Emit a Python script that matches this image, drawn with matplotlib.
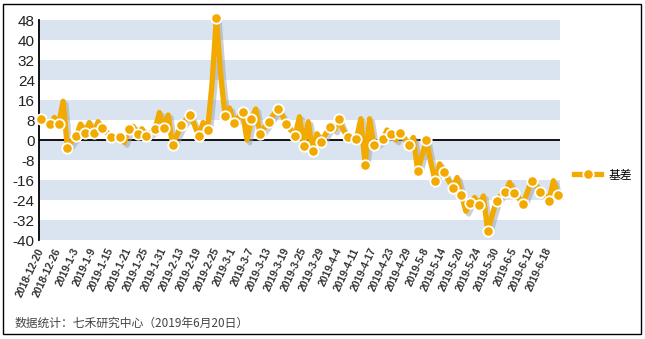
import matplotlib
matplotlib.use("Agg")
import matplotlib.pyplot as plt
import matplotlib.patheffects as pe
from matplotlib.lines import Line2D
from matplotlib.patches import Rectangle

plt.rcParams['font.family'] = ['Liberation Sans', 'Noto Sans CJK SC', 'DejaVu Sans']

series_name = "基差"
basis = [
    8.3, 8, 6.3, 9, 6.3, 15.5, -3.3, -0.5, 1.6, 6.4,
    2.9, 7, 2.7, 7.3, 4.9, 3, 1.1, 1.5, 1.3, -1,
    4.3, 5.5, 2.4, 4.5, 1.6, 3, 4.3, 11, 4.9, 10,
    -2, 2, 6, 8, 10, 6, 1.6, 7, 4, 22,
    49, 26, 9.7, 12.8, 7, 9, 11.2, 0, 8.4, 12.4,
    2.3, 5, 7.2, 10, 12.4, 10, 6.4, 4, 1.8, 9.3,
    -2.2, 7.3, -4.4, 2.5, -0.7, 2.5, 5.3, 4, 8.3, 4,
    1.3, 1.5, 0.3, 8.5, -10, 8.5, -2, -1, 0.3, 4,
    2.5, 0, 2.9, 0.5, -2, 1, -12.3, -6, 0, -9,
    -16.4, -9.5, -12.7, -16, -19.3, -15, -22, -28.5, -25, -23,
    -26, -22.4, -36.5, -30, -24.3, -22, -20.7, -17, -21, -23,
    -25.7, -21, -16.3, -18, -20.7, -22, -24.3, -16.3, -22,
]
tick_labels = [
    "2018-12-20", "2018-12-26", "2019-1-3", "2019-1-9", "2019-1-15", "2019-1-21",
    "2019-1-25", "2019-1-31", "2019-2-13", "2019-2-19", "2019-2-25", "2019-3-1",
    "2019-3-7", "2019-3-13", "2019-3-19", "2019-3-25", "2019-3-29", "2019-4-4",
    "2019-4-11", "2019-4-17", "2019-4-23", "2019-4-29", "2019-5-8", "2019-5-14",
    "2019-5-20", "2019-5-24", "2019-5-30", "2019-6-5", "2019-6-12", "2019-6-18",
]
label_step = 4
y_ticks = [-40, -32, -24, -16, -8, 0, 8, 16, 24, 32, 40, 48]
footer = "数据统计：七禾研究中心（2019年6月20日）"

line_color = "#F2AA00"
band_color = "#D9E4F0"

fig = plt.figure(figsize=(6.45, 3.39), dpi=100)
ax = fig.add_axes([39 / 645, 1 - 240 / 339, 521 / 645, 220 / 339])

n = len(basis)
x = list(range(n))

# alternating bands
for i in range(len(y_ticks) - 1):
    lo, hi = y_ticks[i], y_ticks[i + 1]
    if i % 2 == 0:
        ax.axhspan(lo, hi, color=band_color, lw=0, zorder=0)

ax.axhline(0, color="black", lw=1.3, zorder=1)

ax.plot(x, basis, color=line_color, lw=3.8, solid_joinstyle="round",
        zorder=3, clip_on=False,
        path_effects=[pe.SimpleLineShadow(offset=(2.0, -2.0), shadow_color="#9aa0a8", alpha=0.5),
                      pe.Normal()])
ax.plot(x[::2], basis[::2], ls="none", marker="o", ms=7.5, mfc=line_color,
        mec="white", mew=1.3, zorder=4, clip_on=False)

ax.set_xlim(-0.5, n - 0.5)
ax.set_ylim(-40, 48)
ax.set_yticks(y_ticks)
ax.set_yticklabels([str(v) for v in y_ticks], fontsize=11, color="#222222")
ax.tick_params(axis="y", length=0, pad=3)

tick_pos = list(range(0, label_step * len(tick_labels), label_step))
ax.set_xticks(tick_pos)
ax.set_xticklabels(tick_labels, rotation=65, ha="right", va="center",
                   rotation_mode="anchor", fontsize=7.5, fontweight="bold", color="#333333")
ax.tick_params(axis="x", length=0, pad=6)

for s in ["top", "right", "bottom"]:
    ax.spines[s].set_visible(False)
ax.spines["left"].set_color("black")
ax.spines["left"].set_linewidth(1.3)
ax.patch.set_alpha(0)

handle = Line2D([], [], color=line_color, lw=3.8, marker="o", ms=7.5,
                mfc=line_color, mec="white", mew=1.3)
ax.legend([handle], [series_name], loc="center left", bbox_to_anchor=(1.0, 0.295),
          frameon=False, handlelength=2.3, handletextpad=0.6,
          borderaxespad=0.8, prop={'family': ['Noto Sans CJK SC'], 'size': 8.5})

fig.text(15 / 645, 1 - 323 / 339, footer, fontsize=8.5, color="#444444",
         family=['Noto Sans CJK SC', 'DejaVu Sans'], ha="left", va="center")

fig.patches.append(Rectangle((3 / 645, 1 - 334 / 339), 638 / 645, 330 / 339,
                             transform=fig.transFigure, fill=False,
                             edgecolor="black", lw=1.0))

fig.savefig("out.png", dpi=100)
